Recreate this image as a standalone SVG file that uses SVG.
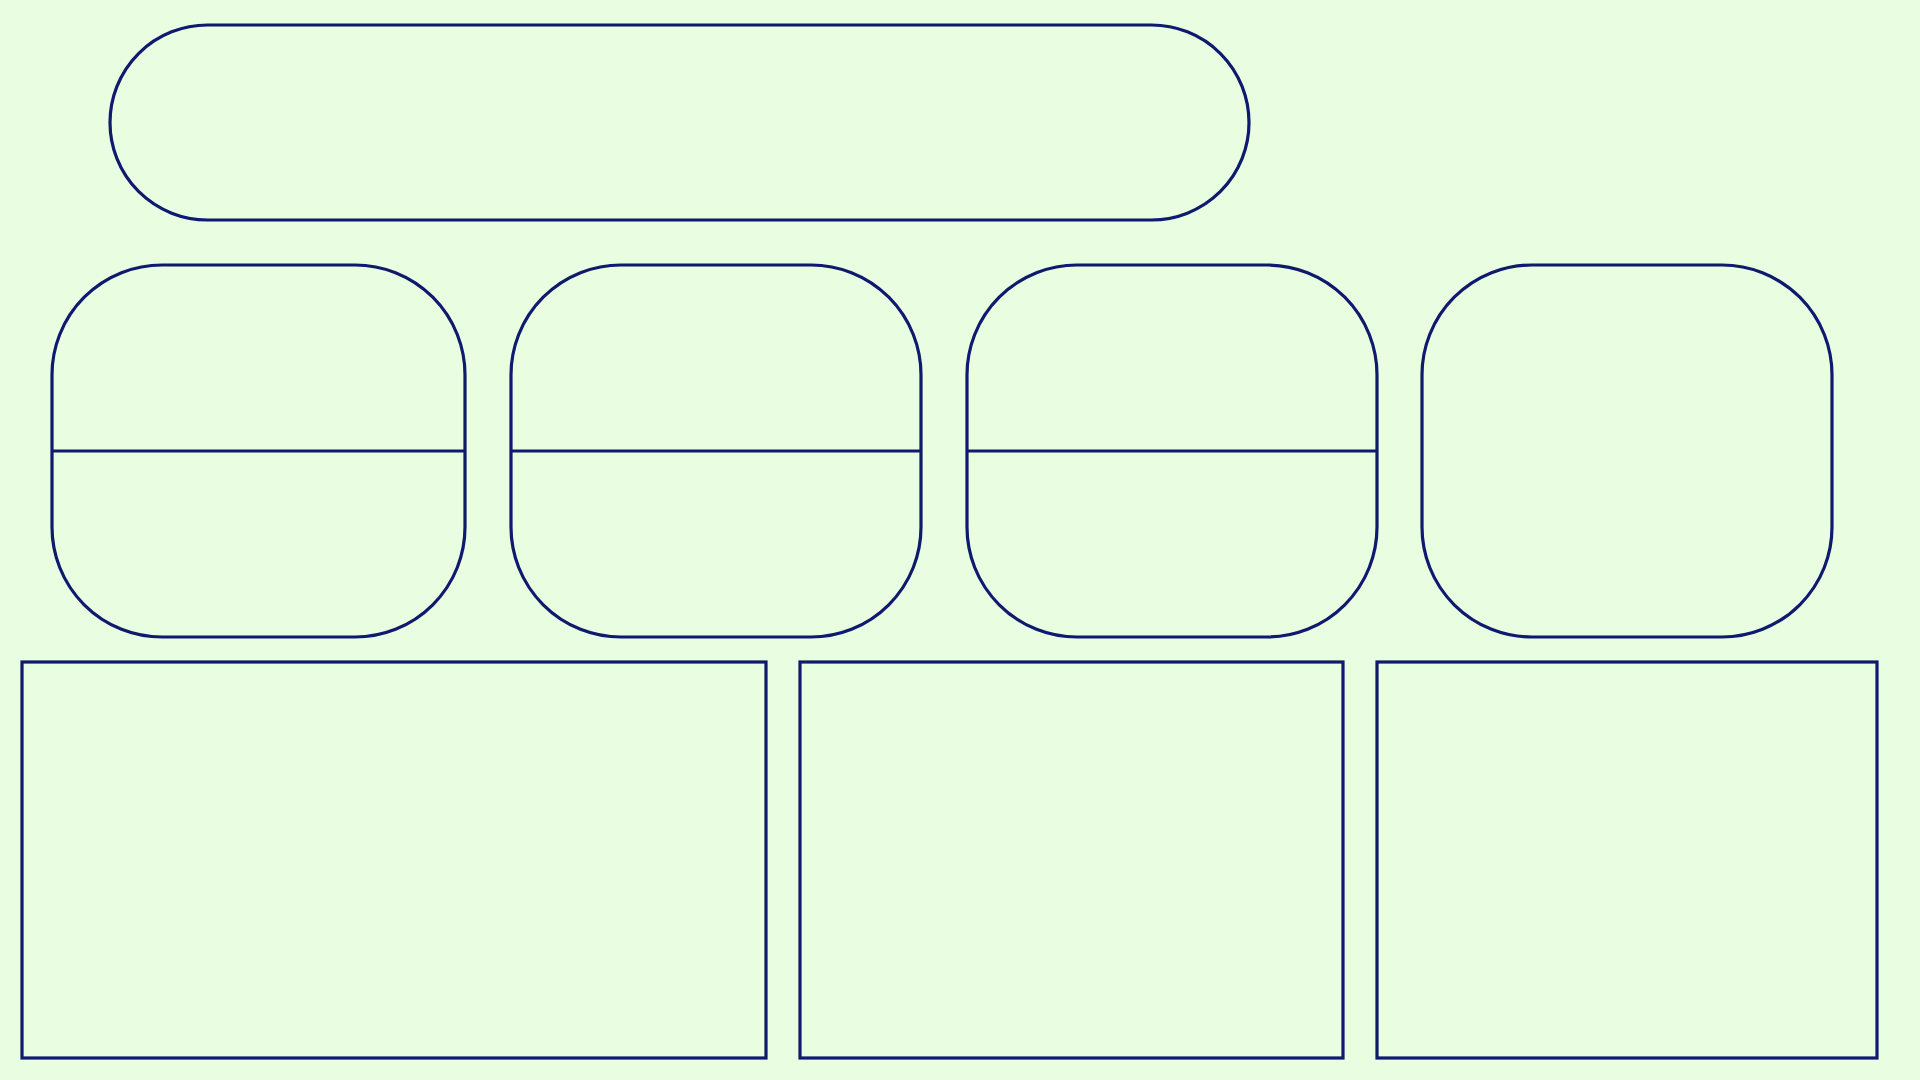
<svg xmlns="http://www.w3.org/2000/svg" width="1920" height="1080" viewBox="0 0 1920 1080">
<style>
.s{fill:none;stroke:#0f1a6e;stroke-width:3.2}
</style>
<rect width="1920" height="1080" fill="#e9fde1"/>
<g id="pill"><rect class="s" x="110" y="25" width="1139" height="195" rx="97.5"/></g>
<g id="box1"><rect class="s" x="52" y="265" width="413" height="372" rx="110"/><line class="s" x1="52" y1="451" x2="465" y2="451"/></g>
<g id="box2"><rect class="s" x="511" y="265" width="410" height="372" rx="110"/><line class="s" x1="511" y1="451" x2="921" y2="451"/></g>
<g id="box3"><rect class="s" x="967" y="265" width="410" height="372" rx="110"/><line class="s" x1="967" y1="451" x2="1377" y2="451"/></g>
<g id="box4"><rect class="s" x="1422" y="265" width="410" height="372" rx="110"/></g>
<g id="rectA"><rect class="s" x="22" y="662" width="744" height="396"/></g>
<g id="rectB"><rect class="s" x="800" y="662" width="543" height="396"/></g>
<g id="rectC"><rect class="s" x="1377" y="662" width="500" height="396"/></g>
<g id="connectors"></g>
</svg>
